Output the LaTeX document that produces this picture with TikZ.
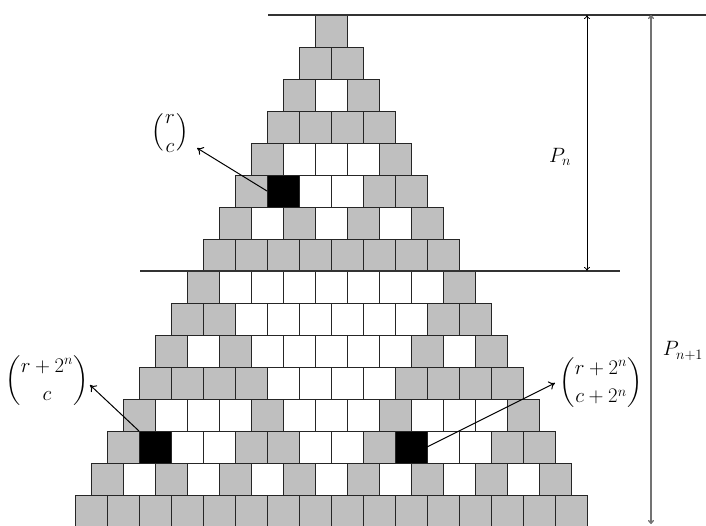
\documentclass[tikz,border=0pt]{standalone}
\usepackage{amsmath}
\usetikzlibrary{arrows.meta}
\begin{document}
\begin{tikzpicture}[x=1pt,y=-1pt,
  cellbox/.style={draw=black!85, line width=1pt, minimum size=32pt, inner sep=0pt, outer sep=0pt, anchor=north west},
  ptr/.style={-{To[length=6pt,width=9pt]}, line width=1pt},
  lvl/.style={line width=1.4pt, black!80},
  dimA/.style={{To[length=4pt,width=6pt]}-{To[length=4pt,width=6pt]}, line width=0.8pt, black},
  dimB/.style={{To[length=4pt,width=6pt]}-{To[length=4pt,width=6pt]}, line width=1.3pt, black!55},
  lab/.style={font=\fontsize{22}{26}\selectfont, inner sep=0pt}]
\useasboundingbox (0,0) rectangle (706,525);
\begin{scope}
\clip (0,0) rectangle (706,525);
\foreach \r in {0,...,15} {
  \foreach \c in {0,...,\r} {
    \pgfmathtruncatemacro\odd{(1-mod(\c,2)*(1-mod(\r,2)))*(1-mod(floor(\c/2),2)*(1-mod(floor(\r/2),2)))*(1-mod(floor(\c/4),2)*(1-mod(floor(\r/4),2)))*(1-mod(floor(\c/8),2)*(1-mod(floor(\r/8),2)))}
    \pgfmathtruncatemacro\hit{((\r==5)*(\c==1)) + ((\r==13)*((\c==1)+(\c==9)))}
    \ifnum\hit>0 \def\cfill{black}\else\ifnum\odd=1 \def\cfill{black!25}\else\def\cfill{white}\fi\fi
    \node[cellbox, fill=\cfill] (cell-\r-\c) at ({315-16*\r+32*\c},{15+32*\r}) {};
  }
}
\end{scope}
% level lines
\coordinate (topL) at (268,15);
\coordinate (topR) at (706,15);
\coordinate (midL) at (140,271);
\coordinate (midR) at (620,271);
\draw[lvl] (topL) -- (topR);
\draw[lvl] (midL) -- (midR);
% dimension arrows
\coordinate (pnT) at (587,15);
\coordinate (pnB) at (587,271);
\coordinate (pmT) at (651,15);
\coordinate (pmB) at (651,524);
\draw[dimA] (pnT) -- (pnB);
\draw[dimB] (pmT) -- (pmB);
\node[lab] (pn) at (560,157) {$P_n$};
\node[lab] (pm) at (683,351) {$P_{n+1}$};
% binomial labels
\node[lab] (lab1) at (170,133) {$\Bigl(\genfrac{}{}{0pt}{0}{r}{c}\Bigr)$};
\node[lab] (lab2) at (47,381) {$\dbinom{r+2^n}{c}$};
\node[lab] (lab3) at (601,383) {$\dbinom{r+2^n}{c+2^n}$};
\coordinate (t1) at (197,148);
\coordinate (t2) at (90,385);
\coordinate (t3) at (555,383);
\draw[ptr] (cell-5-1.west) -- (t1);
\draw[ptr] (cell-13-1.north west) -- (t2);
\draw[ptr] (cell-13-9.east) -- (t3);
\end{tikzpicture}
\end{document}
